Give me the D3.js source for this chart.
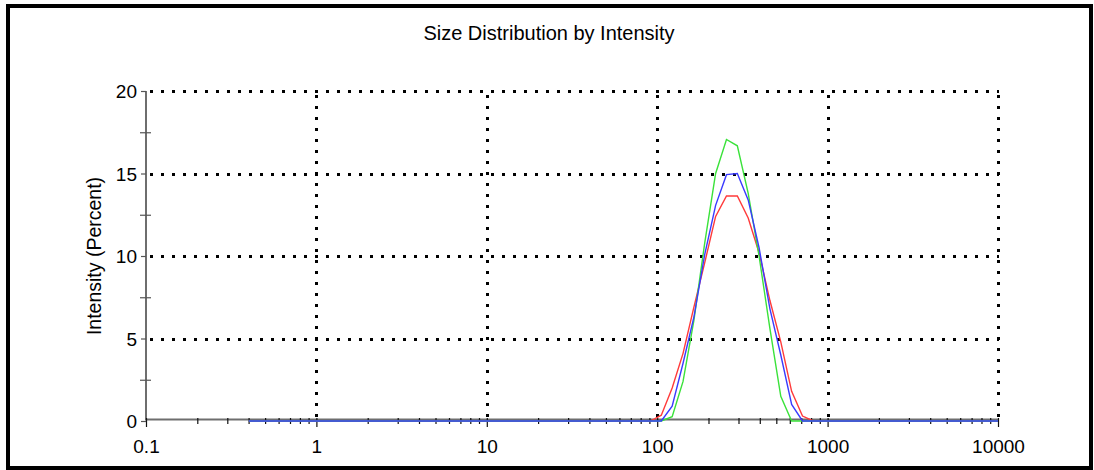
<!DOCTYPE html>
<html>
<head>
<meta charset="utf-8">
<script src="https://cdn.jsdelivr.net/npm/d3@7"></script>
<style>
  html, body { margin: 0; padding: 0; background: #fff; }
  svg { display: block; }
  text { font-family: "Liberation Sans", Arial, sans-serif; fill: #000; }
</style>
</head>
<body>
<svg id="chart" width="1094" height="470"></svg>
<script>
// ---- Data ----
const title = "Size Distribution by Intensity";
const yTitle = "Intensity (Percent)";

// Size classes (d.nm)
const sizes = [0.4, 0.4632, 0.5365, 0.6213, 0.7195, 0.8332, 0.9649, 1.117, 1.294, 1.499,
  1.736, 2.010, 2.328, 2.696, 3.122, 3.615, 4.187, 4.849, 5.615, 6.503,
  7.531, 8.721, 10.10, 11.70, 13.54, 15.69, 18.17, 21.04, 24.36, 28.21,
  32.67, 37.84, 43.82, 50.75, 58.77, 68.06, 78.82, 91.28, 105.7, 122.4,
  141.8, 164.2, 190.1, 220.2, 255.0, 295.3, 342.0, 396.1, 458.7, 531.2,
  615.1, 712.4, 825.0, 955.4, 1106, 1281, 1484, 1718, 1990, 2305,
  2669, 3091, 3580, 4145, 4801, 5560, 6439, 7456, 8635, 10000];

const redValues = [0, 0, 0, 0, 0, 0, 0, 0, 0, 0,
  0, 0, 0, 0, 0, 0, 0, 0, 0, 0,
  0, 0, 0, 0, 0, 0, 0, 0, 0, 0,
  0, 0, 0, 0, 0, 0, 0, 0, 0.35, 2.0,
  4.1, 6.9, 9.6, 12.4, 13.64, 13.64, 12.3, 10.2, 7.3, 4.8,
  1.8, 0.3, 0, 0, 0, 0, 0, 0, 0, 0,
  0, 0, 0, 0, 0, 0, 0, 0, 0, 0];

const greenValues = [0, 0, 0, 0, 0, 0, 0, 0, 0, 0,
  0, 0, 0, 0, 0, 0, 0, 0, 0, 0,
  0, 0, 0, 0, 0, 0, 0, 0, 0, 0,
  0, 0, 0, 0, 0, 0, 0, 0, 0, 0.26,
  2.4, 6.1, 10.8, 15.0, 17.06, 16.68, 13.8, 10.0, 5.6, 1.5,
  0, 0, 0, 0, 0, 0, 0, 0, 0, 0,
  0, 0, 0, 0, 0, 0, 0, 0, 0, 0];

const blueValues = [0, 0, 0, 0, 0, 0, 0, 0, 0, 0,
  0, 0, 0, 0, 0, 0, 0, 0, 0, 0,
  0, 0, 0, 0, 0, 0, 0, 0, 0, 0,
  0, 0, 0, 0, 0, 0, 0, 0, 0, 0.9,
  3.5, 6.3, 10.1, 13.07, 14.93, 15.0, 13.4, 10.5, 6.8, 4.0,
  1.0, 0, 0, 0, 0, 0, 0, 0, 0, 0,
  0, 0, 0, 0, 0, 0, 0, 0, 0, 0];

const xMajorTicks = [0.1, 1, 10, 100, 1000, 10000];
const xTickLabels = ["0.1", "1", "10", "100", "1000", "10000"];
const xMinorTicks = [];
[0.1, 1, 10, 100, 1000].forEach(d => { for (let k = 2; k <= 9; k++) xMinorTicks.push(+(d * k).toPrecision(3)); });
const yMajorTicks = [0, 5, 10, 15, 20];
const yMinorTicks = [2.5, 7.5, 12.5, 17.5];
const xGrid = [1, 10, 100, 1000, 10000];
const yGrid = [5, 10, 15, 20];

const series = [
  { name: "red", values: redValues, color: "#ff3a3a" },
  { name: "green", values: greenValues, color: "#3ae23a" },
  { name: "blue", values: blueValues, color: "#3a3aff" }
];

// ---- Chart ----
const svg = d3.select("#chart");
const x = d3.scaleLog().domain([0.1, 10000]).range([146, 998]);
const y = d3.scaleLinear().domain([0, 20]).range([421, 91]);
const axisY = 419.5;

svg.append("rect").attr("width", 1094).attr("height", 470).attr("fill", "#fff");

// title
svg.append("text").attr("x", 549).attr("y", 40).attr("text-anchor", "middle")
  .style("font-size", "20px").text(title);

// grid
const grid = svg.append("g").attr("stroke", "#000").attr("stroke-width", 3)
  .attr("stroke-dasharray", "3 8").attr("shape-rendering", "crispEdges");
grid.selectAll(".gh").data(yGrid).join("line")
  .attr("x1", x(0.1) + 4).attr("x2", x(10000) + 1)
  .attr("y1", d => Math.round(y(d)) + 0.5).attr("y2", d => Math.round(y(d)) + 0.5);
grid.selectAll(".gv").data(xGrid).join("line")
  .attr("x1", d => Math.round(x(d)) + 0.5).attr("x2", d => Math.round(x(d)) + 0.5)
  .attr("y1", y(20) + 4).attr("y2", axisY - 3);

// axis lines
svg.append("line").attr("x1", x(0.1)).attr("x2", x(10000)).attr("y1", axisY).attr("y2", axisY)
  .attr("stroke", "#6e6e6e").attr("stroke-width", 2);
svg.append("line").attr("x1", x(0.1)).attr("x2", x(0.1)).attr("y1", y(20)).attr("y2", axisY + 1)
  .attr("stroke", "#6e6e6e").attr("stroke-width", 2);

// x axis major
const gxMajor = svg.append("g").attr("transform", `translate(0,${axisY - 1.5})`)
  .call(d3.axisBottom(x).tickValues(xMajorTicks).tickFormat((d, i) => xTickLabels[i]).tickSize(9));
gxMajor.select(".domain").remove();
gxMajor.selectAll(".tick line").attr("stroke", "#111").attr("stroke-width", 1.2);
gxMajor.selectAll(".tick text").attr("y", 453 - (axisY - 1.5)).attr("dy", 0)
  .style("font-size", "19px").style("font-family", '"Liberation Sans", Arial, sans-serif').attr("fill", "#000");

// x axis minor
const gxMinor = svg.append("g").attr("transform", `translate(0,${axisY - 1.5})`)
  .call(d3.axisBottom(x).tickValues(xMinorTicks).tickFormat("").tickSize(6));
gxMinor.select(".domain").remove();
gxMinor.selectAll(".tick line").attr("stroke", "#111").attr("stroke-width", 1.2);

// y axis major
const gyMajor = svg.append("g").attr("transform", `translate(${x(0.1)},0)`)
  .call(d3.axisLeft(y).tickValues(yMajorTicks).tickSize(5));
gyMajor.select(".domain").remove();
gyMajor.selectAll(".tick line").attr("stroke", "#555").attr("stroke-width", 1.2);
gyMajor.selectAll(".tick text").attr("x", -9).attr("dy", "0.36em")
  .style("font-size", "19px").style("font-family", '"Liberation Sans", Arial, sans-serif').attr("fill", "#000");

// y axis minor
const gyMinor = svg.append("g").attr("transform", `translate(${x(0.1)},0)`)
  .call(d3.axisLeft(y).tickValues(yMinorTicks).tickFormat("").tickSize(6));
gyMinor.select(".domain").remove();
gyMinor.selectAll(".tick line").attr("x1", 5).attr("x2", -6).attr("stroke", "#555").attr("stroke-width", 1.2);

// y title
svg.append("text").attr("transform", `translate(101,256) rotate(-90)`)
  .attr("text-anchor", "middle").style("font-size", "19.5px").text(yTitle);

// data lines
const line = d3.line().x((d, i) => x(sizes[i])).y(d => y(d));
svg.append("g").selectAll("path").data(series).join("path")
  .attr("d", d => line(d.values))
  .attr("fill", "none").attr("stroke", d => d.color).attr("stroke-width", 1.4)
  .attr("stroke-linejoin", "miter");

// border
svg.append("rect").attr("x", 8).attr("y", 6).attr("width", 1083).attr("height", 462)
  .attr("fill", "none").attr("stroke", "#000").attr("stroke-width", 4);
</script>
</body>
</html>
